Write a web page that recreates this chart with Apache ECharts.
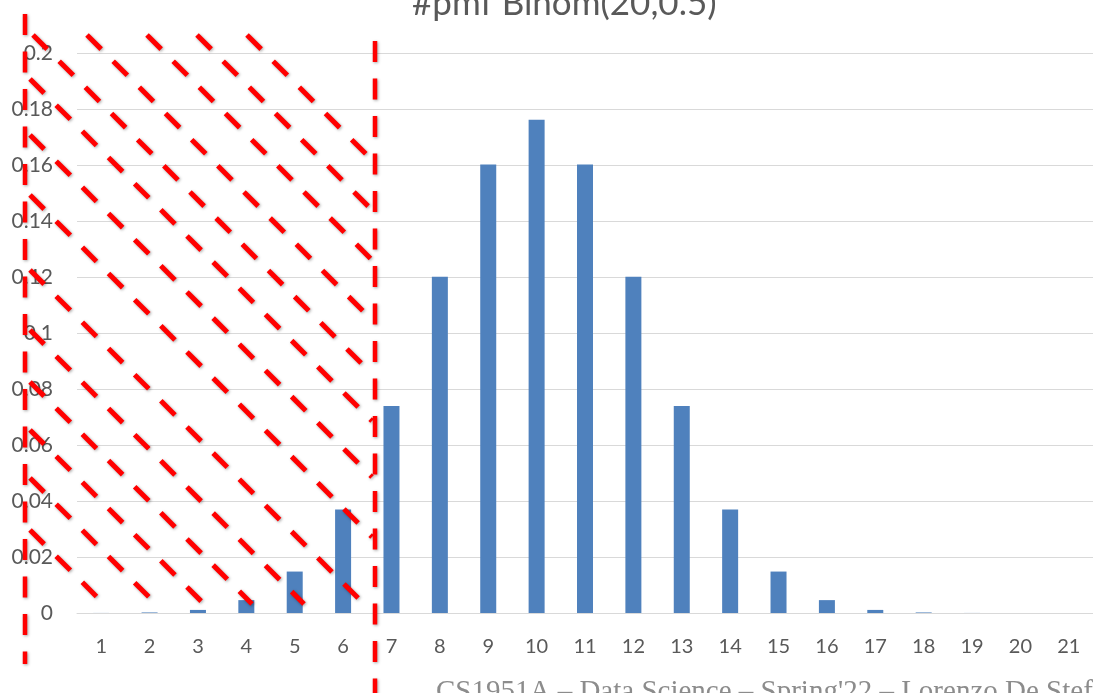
<!DOCTYPE html>
<html>
<head>
<meta charset="utf-8">
<script src="https://cdn.jsdelivr.net/npm/echarts@6/dist/echarts.min.js"></script>
<style>
  html, body { margin: 0; padding: 0; background: #fff; }
  #chart { width: 1093px; height: 693px; }
</style>
</head>
<body>
<div id="chart"></div>
<script>
// categories 1..21, value
const categories = ['1','2','3','4','5','6','7','8','9','10','11','12','13','14','15','16','17','18','19','20','21'];
const pmf = [0.00002, 0.0002, 0.0011, 0.0046, 0.0148, 0.037, 0.0739, 0.1201, 0.1602, 0.1762,
             0.1602, 0.1201, 0.0739, 0.037, 0.0148, 0.0046, 0.0011, 0.0002, 0.00002, 0.000001, 0];
const yTicks = [0, 0.02, 0.04, 0.06, 0.08, 0.1, 0.12, 0.14, 0.16, 0.18, 0.2];

const titleText = '#pmf Binom(20,0.5)';
const footerText = 'CS1951A \u2013 Data Science \u2013 Spring\'22 \u2013 Lorenzo De Stefani';

// hand drawn red hatching (annotation overlay), offsets c of lines y = x + c
const hatchOffsets = [-212, -162, -112, -52, 2, 49, 105, 165, 240, 300, 352, 400, 448, 500];
const hatchBox = { x0: 30, x1: 372, y0: 35, y1: 604 };

const chart = echarts.init(document.getElementById('chart'));

const dashStyle = {
  stroke: '#ff0000',
  lineWidth: 5,
  lineDash: [20, 17],
  shadowBlur: 3,
  shadowColor: 'rgba(0,0,0,0.35)',
  shadowOffsetX: 1,
  shadowOffsetY: 1
};

const overlay = hatchOffsets.map(c => {
  const xs = Math.max(hatchBox.x0, hatchBox.y0 - c);
  const xe = Math.min(hatchBox.x1, hatchBox.y1 - c);
  return {
    type: 'line', silent: true, z: 100,
    shape: { x1: xs, y1: xs + c, x2: xe, y2: xe + c },
    style: dashStyle
  };
});
overlay.push(
  { type: 'line', silent: true, z: 100, shape: { x1: 25, y1: 14, x2: 25, y2: 664 },
    style: Object.assign({}, dashStyle, { lineWidth: 4.5, lineDash: [21, 16.5] }) },
  { type: 'line', silent: true, z: 100, shape: { x1: 375, y1: 41, x2: 375, y2: 700 },
    style: Object.assign({}, dashStyle, { lineWidth: 4.5, lineDash: [21, 16.5] }) },
  { type: 'text', silent: true, z: 100, x: 436, y: 678,
    style: { text: footerText, fill: '#8c8c8c', font: '29px "Liberation Serif", serif', textVerticalAlign: 'top' } }
);

const option = {
  animation: false,
  title: {
    text: titleText,
    left: 412,
    top: -14,
    padding: 0,
    textStyle: { fontFamily: 'Lato', fontSize: 35, fontWeight: 'normal', color: '#595959' }
  },
  grid: { left: 77, right: -10, top: 53, bottom: 80, containLabel: false },
  xAxis: {
    type: 'category',
    data: categories,
    axisLine: { lineStyle: { color: '#d9d9d9', width: 1 } },
    axisTick: { show: false },
    axisLabel: { color: '#595959', fontFamily: 'Lato', fontSize: 20, margin: 24 }
  },
  yAxis: {
    type: 'value',
    min: 0,
    max: 0.2,
    interval: 0.02,
    axisLine: { show: false },
    axisTick: { show: false },
    splitLine: { lineStyle: { color: '#d9d9d9', width: 1 } },
    axisLabel: {
      color: '#595959', fontFamily: 'Lato', fontSize: 21, margin: 24,
      formatter: v => {
        const t = yTicks.find(y => Math.abs(y - v) < 1e-9);
        return String(+(t !== undefined ? t : v).toFixed(2));
      }
    }
  },
  series: [{
    type: 'bar',
    data: pmf,
    barWidth: 16,
    itemStyle: { color: '#4f81bd' }
  }],
  graphic: overlay
};

chart.setOption(option);
</script>
</body>
</html>
